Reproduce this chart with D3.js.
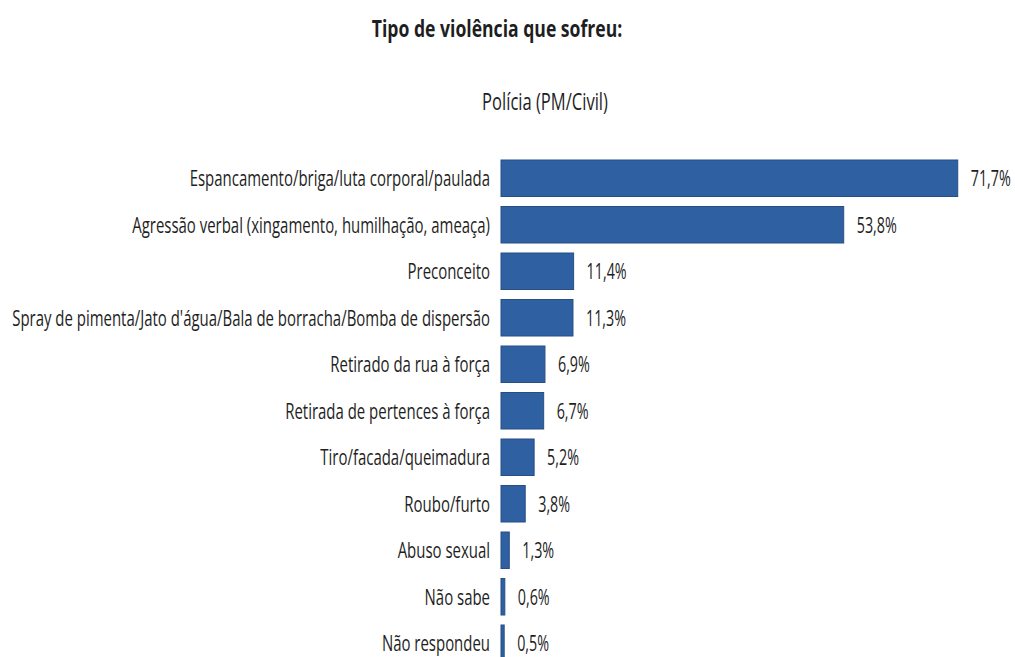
<!DOCTYPE html>
<html>
<head>
<meta charset="utf-8">
<script src="https://cdn.jsdelivr.net/npm/d3@7"></script>
<style>
  html, body { margin: 0; padding: 0; background: #fff; }
  svg { display: block; }
  text { fill: #1e1e1e; }
</style>
</head>
<body>
<svg id="chart" width="1015" height="657"></svg>
<script>
// Tipo de violência sofrida — Polícia (PM/Civil), % de respostas
const categories = [
  "Espancamento/briga/luta corporal/paulada",
  "Agressão verbal (xingamento, humilhação, ameaça)",
  "Preconceito",
  "Spray de pimenta/Jato d'água/Bala de borracha/Bomba de dispersão",
  "Retirado da rua à força",
  "Retirada de pertences à força",
  "Tiro/facada/queimadura",
  "Roubo/furto",
  "Abuso sexual",
  "Não sabe",
  "Não respondeu"
];
const values = [71.7, 53.8, 11.4, 11.3, 6.9, 6.7, 5.2, 3.8, 1.3, 0.6, 0.5];
const title = "Tipo de violência que sofreu:";
const subtitle = "Polícia (PM/Civil)";

const svg = d3.select("#chart");

const ptBR = d3.formatLocale({ decimal: ",", thousands: ".", grouping: [3], currency: ["R$", ""] });
const fmt = v => ptBR.format(".1f")(v) + "%";

// narrow, tall lettering
const font = "'Open Sans', 'Noto Sans', sans-serif";

const x0 = 501;
const x = d3.scaleLinear().domain([0, 100]).range([x0, x0 + 637]);

const step = 46.5;
const y = d3.scaleBand()
  .domain(categories)
  .range([155, 155 + step * categories.length])
  .paddingInner(0.215)
  .paddingOuter(0.1075);

// title
svg.append("text")
  .attr("transform", "translate(497,37) scale(0.765,1)")
  .attr("text-anchor", "middle")
  .style("font-family", font)
  .style("font-size", "23px")
  .style("font-weight", "700")
  .text(title);

svg.append("text")
  .attr("transform", "translate(545,110) scale(0.72,1)")
  .attr("text-anchor", "middle")
  .style("font-family", font)
  .style("font-size", "23px")
  .text(subtitle);

const data = categories.map((c, i) => ({ c, v: values[i] }));

// bars
svg.append("g").selectAll("rect")
  .data(data)
  .join("rect")
  .attr("x", x(0))
  .attr("y", d => y(d.c))
  .attr("width", d => x(d.v) - x(0))
  .attr("height", y.bandwidth())
  .attr("fill", "#2f60a2")
  .attr("stroke", "#274f86")
  .attr("stroke-width", 1);

// category labels
svg.append("g").selectAll("text")
  .data(data)
  .join("text")
  .attr("transform", d => `translate(${x(0) - 11},${y(d.c) + y.bandwidth() / 2 + 8}) scale(0.68,1)`)
  .attr("text-anchor", "end")
  .style("font-family", font)
  .style("font-size", "22px")
  .text(d => d.c);

// value labels
svg.append("g").selectAll("text")
  .data(data)
  .join("text")
  .attr("transform", d => `translate(${x(d.v) + 13},${y(d.c) + y.bandwidth() / 2 + 8}) scale(0.65,1)`)
  .attr("text-anchor", "start")
  .style("font-family", font)
  .style("font-size", "22px")
  .text(d => fmt(d.v));
</script>
</body>
</html>
